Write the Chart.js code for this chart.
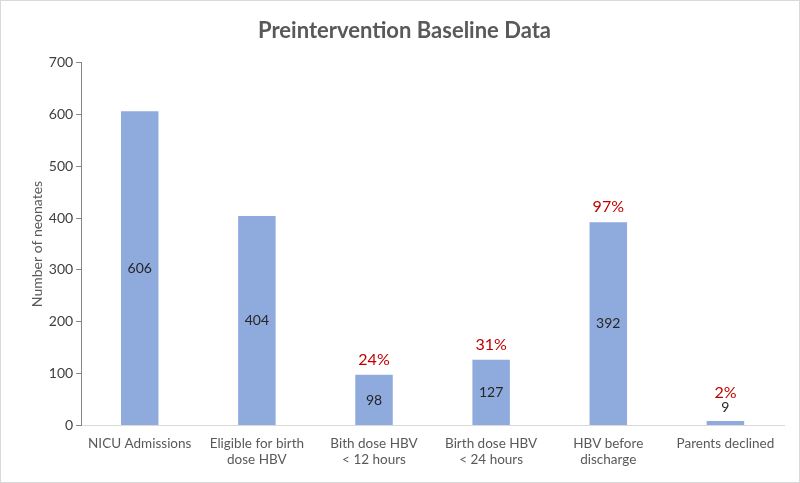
<!DOCTYPE html>
<html>
<head>
<meta charset="utf-8">
<script src="https://cdn.jsdelivr.net/npm/chart.js@4"></script>
<style>
  html, body { margin: 0; padding: 0; background: #fff; }
  #wrap { position: relative; width: 798px; height: 481px; border: 1px solid #d9d9d9; }
</style>
</head>
<body>
<div id="wrap"><canvas id="baseline"></canvas></div>
<script>
// chart data
const categories = [
    'NICU Admissions',
    ['Eligible for birth', 'dose HBV'],
    ['Bith dose HBV', '< 12 hours'],
    ['Birth dose HBV', '< 24 hours'],
    ['HBV before', 'discharge'],
    'Parents declined'
];
const neonates = [606, 404, 98, 127, 392, 9];
const percents = ['', '', '24%', '31%', '97%', '2%'];
const yTicks = [0, 100, 200, 300, 400, 500, 600, 700];

const fontFamily = 'Lato, "Open Sans", sans-serif';

// draws count labels (inside bar or above it) and red percentages
const barLabels = {
    id: 'barLabels',
    afterDatasetsDraw(chart) {
        const c = chart.ctx;
        const meta = chart.getDatasetMeta(0);
        const y = chart.scales.y;
        c.save();
        c.textAlign = 'center';
        c.textBaseline = 'middle';
        meta.data.forEach(function(bar, i) {
            const v = neonates[i];
            c.font = '14px ' + fontFamily;
            c.fillStyle = '#262626';
            let topOfLabels;
            if (v > 50) {
                c.fillText(String(v), bar.x, (bar.y + y.getPixelForValue(0)) / 2);
                topOfLabels = bar.y;
            } else {
                c.fillText(String(v), bar.x, bar.y - 13);
                topOfLabels = bar.y - 13;
            }
            if (percents[i]) {
                c.font = '16px ' + fontFamily;
                c.fillStyle = '#c00000';
                c.fillText(percents[i], bar.x, topOfLabels - 15);
            }
        });
        c.restore();
    }
};

document.addEventListener('DOMContentLoaded', function() {
    const ctx = document.getElementById('baseline');
    new Chart(ctx.getContext('2d'), {
        type: 'bar',
        data: {
            labels: categories,
            datasets: [{
                data: neonates,
                backgroundColor: '#8faadc',
                barPercentage: 0.32,
                categoryPercentage: 1.0
            }]
        },
        options: {
            responsive: true,
            maintainAspectRatio: false,
            animation: false,
            layout: { padding: { left: 24, right: 15, top: 8, bottom: 4 } },
            plugins: {
                legend: { display: false },
                tooltip: { enabled: false },
                title: {
                    display: true,
                    text: 'Preintervention Baseline Data',
                    color: '#595959',
                    font: { family: fontFamily, size: 22, weight: 'bold' },
                    padding: { top: 9, bottom: 18 }
                }
            },
            scales: {
                x: {
                    grid: { display: false, drawTicks: false },
                    border: { color: '#d9d9d9', width: 1 },
                    ticks: {
                        color: '#595959',
                        font: { family: fontFamily, size: 13.5 },
                        maxRotation: 0,
                        autoSkip: false,
                        padding: 10
                    }
                },
                y: {
                    min: 0,
                    max: 700,
                    afterBuildTicks: function(axis) {
                        axis.ticks = yTicks.map(function(v) { return { value: v }; });
                    },
                    grid: { display: true, drawOnChartArea: false, drawTicks: true, tickLength: 5, color: '#868686' },
                    border: { color: '#868686', width: 1 },
                    ticks: {
                        color: '#404040',
                        font: { family: fontFamily, size: 14 },
                        padding: 3
                    },
                    title: {
                        display: true,
                        text: 'Number of neonates',
                        color: '#595959',
                        font: { family: fontFamily, size: 14 },
                        padding: { bottom: 0 }
                    }
                }
            }
        },
        plugins: [barLabels]
    });
});
</script>
</body>
</html>
